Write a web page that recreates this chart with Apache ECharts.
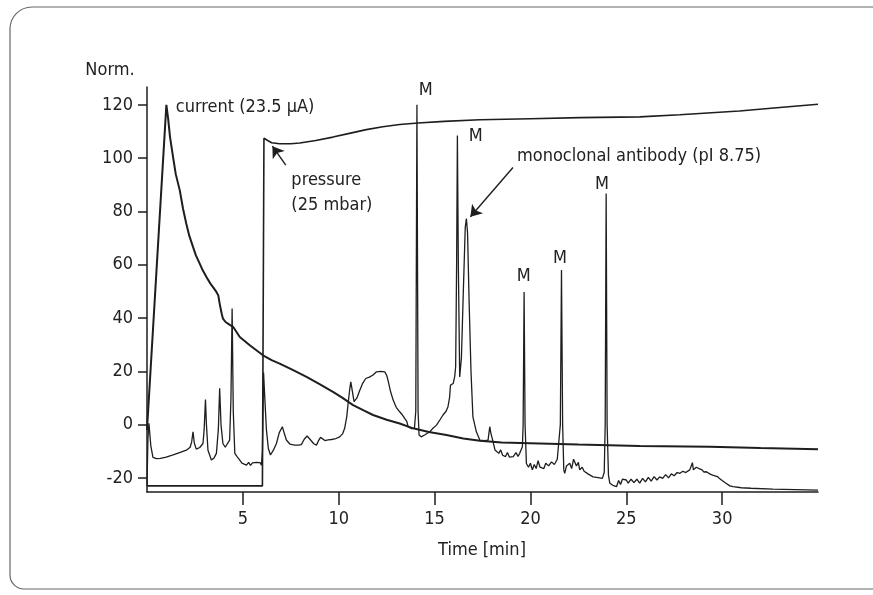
<!DOCTYPE html>
<html>
<head>
<meta charset="utf-8">
<script src="https://cdn.jsdelivr.net/npm/echarts@6.0.0/dist/echarts.min.js"></script>
<style>
html, body { margin: 0; padding: 0; background: #fff; }
#chart { width: 873px; height: 595px; }
</style>
</head>
<body>
<div id="chart"></div>
<script>
// 数据 (time [min], norm.)
var yTicks = [-20, 0, 20, 40, 60, 80, 100, 120];
var xTicks = [5, 10, 15, 20, 25, 30];

// 电流曲线
var current = [
    [0, -2], [1.01, 120], [1.1, 115], [1.2, 108], [1.36, 100.4], [1.5, 94], [1.71, 87.9],
    [1.88, 81], [2.05, 75.4], [2.2, 71], [2.4, 66.7], [2.55, 63.5], [2.75, 60.4], [2.9, 58],
    [3.1, 55.4], [3.3, 53], [3.5, 51], [3.62, 49.8], [3.72, 48.5], [3.79, 45.4], [3.9, 41.5],
    [3.96, 39.8], [4.1, 38.5], [4.3, 37.5], [4.49, 36.7], [4.84, 32.9], [5.36, 29.8],
    [6.05, 26], [6.5, 24.2], [6.92, 22.9], [7.6, 20.5], [8.32, 17.9], [9.0, 15.2], [9.7, 12.3],
    [10.2, 10], [10.75, 7.3], [11.3, 5.3], [11.79, 3.6], [12.5, 1.8], [13.18, 0.4],
    [13.88, -1.4], [14.7, -2.8], [15.62, -3.9], [16.5, -5.2], [17.36, -6.1], [18.5, -6.7],
    [20.48, -7.1], [22.5, -7.5], [25.7, -8.0], [29.35, -8.3], [32, -8.8], [35, -9.3]
];

// 压力曲线
var pressure = [
    [0, -23], [6.02, -23], [6.1, 107.5], [6.25, 106.8], [6.5, 105.8], [6.92, 105.4],
    [7.5, 105.4], [7.97, 105.7], [8.8, 106.6], [9.7, 107.9], [10.5, 109.2], [11.44, 110.7],
    [12.3, 111.8], [13.18, 112.6], [14.14, 113.2], [15.5, 113.8], [17.36, 114.4], [20, 114.8],
    [22.57, 115.2], [25.7, 115.5], [27.79, 116.3], [30.9, 117.7], [33, 119], [35, 120.2]
];

// 信号
var signal = [
    [0, -23], [0.05, -5], [0.1, 0.5], [0.2, -8], [0.31, -12.3], [0.5, -12.8], [0.7, -12.7],
    [1.0, -12.2], [1.36, -11.4], [1.7, -10.5], [2.05, -9.6], [2.25, -8.5], [2.33, -6.5],
    [2.4, -2.7], [2.47, -7], [2.57, -9.2], [2.75, -8.6], [2.92, -7.1], [2.98, -2], [3.05, 9.4],
    [3.1, 0], [3.18, -9.6], [3.36, -13.3], [3.5, -12.5], [3.62, -10.8], [3.72, -2], [3.79, 13.6],
    [3.86, 0], [3.96, -7.1], [4.08, -8.5], [4.17, -8.3], [4.31, -5.8], [4.38, 10], [4.44, 43.6],
    [4.5, 5], [4.58, -10.8], [4.7, -12], [4.84, -13.3], [4.95, -14.5], [5.05, -13.8],
    [5.19, -15.2], [5.3, -14.2], [5.4, -15.3], [5.5, -14.4], [5.6, -15], [5.7, -14.2],
    [5.8, -14.8], [5.9, -14.3], [5.97, -15.2], [6.02, -10], [6.08, 19.5], [6.13, 12],
    [6.23, -2], [6.33, -9], [6.44, -11.4], [6.6, -9.5], [6.75, -7.1], [6.9, -3], [7.06, -0.8],
    [7.15, -3], [7.27, -5.8], [7.45, -7.3], [7.7, -7.7], [7.9, -7.7], [8.05, -7.5], [8.2, -5.5],
    [8.35, -4.3], [8.5, -5.5], [8.7, -7.2], [8.84, -7.7], [8.95, -6], [9.05, -4.8], [9.15, -5.5],
    [9.28, -6], [9.45, -5.7], [9.62, -5.6], [9.8, -5.4], [10.05, -4.6], [10.2, -3.5],
    [10.31, -1.4], [10.42, 3], [10.49, 7.9], [10.57, 13], [10.63, 16], [10.7, 13], [10.8, 8.6],
    [10.95, 10], [11.1, 12.9], [11.25, 15.5], [11.41, 17.3], [11.6, 17.8], [11.79, 18.6],
    [11.97, 19.8], [12.2, 20], [12.4, 19.8], [12.5, 18.5], [12.57, 16.7], [12.7, 12.5],
    [12.84, 9.2], [13.0, 6.5], [13.18, 4.8], [13.3, 3.8], [13.44, 2.3], [13.55, 1.2],
    [13.62, -0.8], [13.8, -1.5], [13.95, -1.3], [14.02, 5], [14.08, 120], [14.14, 5],
    [14.19, -3.9], [14.3, -4.6], [14.5, -3.8], [14.75, -2.7], [14.9, -1.5], [15.1, -0.2],
    [15.3, 2], [15.44, 3.6], [15.6, 5], [15.7, 6.7], [15.78, 10], [15.83, 14.8], [15.97, 15.4],
    [16.05, 18], [16.1, 21.7], [16.15, 60], [16.19, 108.5], [16.24, 60], [16.31, 17.9],
    [16.4, 25], [16.5, 50], [16.6, 74], [16.66, 77.3], [16.72, 72], [16.8, 46.7], [16.9, 20],
    [17.0, 2.9], [17.18, -2.7], [17.36, -5.8], [17.6, -6], [17.79, -5.8], [17.84, -3],
    [17.88, -0.8], [17.93, -3], [18.05, -6.4], [18.15, -9.5], [18.23, -10.2], [18.35, -10.8],
    [18.45, -9.5], [18.55, -11.5], [18.7, -12], [18.8, -10.5], [18.9, -12.2], [19.1, -12],
    [19.25, -10.5], [19.35, -12], [19.44, -10.8], [19.58, -8.3], [19.62, 0], [19.67, 49.8],
    [19.72, 0], [19.79, -14.6], [19.9, -16], [20.0, -14.5], [20.1, -17], [20.2, -15],
    [20.3, -16.5], [20.4, -13.5], [20.5, -16], [20.6, -15.5], [20.7, -16.5], [20.8, -14.5],
    [20.95, -15.5], [21.1, -14], [21.25, -15], [21.4, -13], [21.5, -13.5], [21.56, 0],
    [21.62, 58], [21.68, 0], [21.74, -17], [21.79, -18.3], [21.88, -15.5], [21.97, -15.8],
    [22.05, -14.5], [22.15, -16.5], [22.25, -13], [22.31, -13.3], [22.4, -15.5], [22.5, -14.2],
    [22.57, -17], [22.7, -16], [22.8, -17.5], [22.9, -17], [23.0, -18.5], [23.1, -18],
    [23.27, -19.6], [23.45, -19.8], [23.6, -20], [23.75, -20.2], [23.85, -18], [23.9, 0],
    [23.95, 86.7], [24.0, 0], [24.07, -19], [24.14, -22], [24.3, -22.8], [24.49, -23.3],
    [24.6, -21], [24.7, -22.5], [24.8, -20.5], [25.0, -20.8], [25.1, -22], [25.25, -20.5],
    [25.4, -21.8], [25.55, -20.5], [25.7, -22], [25.85, -20.2], [26.0, -21.5], [26.15, -19.8],
    [26.3, -21.2], [26.45, -19.5], [26.6, -20.8], [26.74, -19.6], [26.9, -20.2], [27.05, -18.8],
    [27.2, -20], [27.35, -18.5], [27.5, -19.2], [27.65, -18], [27.8, -18.3], [27.95, -17.5],
    [28.1, -18], [28.31, -17], [28.4, -16.5], [28.45, -14.3], [28.5, -17], [28.65, -16],
    [28.8, -16.5], [28.95, -17], [29.05, -17.8], [29.18, -17.7], [29.35, -18.5], [29.5, -19],
    [29.6, -18.3], [29.75, -19.5], [29.86, -20.2], [30.0, -21], [30.2, -22], [30.4, -23],
    [30.57, -23.3], [31.0, -23.7], [31.5, -23.9], [32.65, -24.2], [33.8, -24.4], [35, -24.6]
];

// 文字标注 [text, time, value, align]
var labels = [
    ['current (23.5 µA)', 1.5, 118.9, 'left'],
    ['pressure\n(25 mbar)', 7.53, 87.1, 'left'],
    ['monoclonal antibody (pI 8.75)', 19.3, 100.8, 'left'],
    ['M', 14.54, 125.6, 'center'],
    ['M', 17.15, 108.3, 'center'],
    ['M', 19.65, 55.7, 'center'],
    ['M', 21.54, 62.3, 'center'],
    ['M', 23.73, 90.2, 'center']
];

// 箭头
var arrows = [
    [[7.24, 97.4], [6.54, 104.5]],
    [[19.09, 96.5], [16.87, 78.0]]
];

var font = '"Liberation Sans Narrow", "DejaVu Sans Condensed", "Liberation Sans", sans-serif';
var ink = '#1e1e1e';
var fs = 18;

var myChart = echarts.init(document.getElementById('chart'));

var lineStyleOf = function (w) {
    return { color: ink, width: w };
};

myChart.setOption({
    animation: false,
    backgroundColor: '#fff',
    grid: { left: 147, right: 55, top: 87, bottom: 103 },
    xAxis: {
        type: 'value',
        min: 0,
        max: 35,
        axisLine: { onZero: false, lineStyle: { color: ink, width: 1.5 } },
        axisTick: { customValues: xTicks, length: 13, lineStyle: { color: ink, width: 1.5 } },
        axisLabel: { customValues: xTicks, margin: 18, fontSize: fs, color: '#222', fontFamily: font },
        splitLine: { show: false }
    },
    yAxis: {
        type: 'value',
        min: -25.3,
        max: 126.7,
        axisLine: { show: true, onZero: false, lineStyle: { color: ink, width: 1.5 } },
        axisTick: { show: true, customValues: yTicks, length: 9, lineStyle: { color: ink, width: 1.5 } },
        axisLabel: { customValues: yTicks, margin: 14, fontSize: fs, color: '#222', fontFamily: font },
        splitLine: { show: false }
    },
    series: [
        {
            type: 'line',
            data: pressure,
            showSymbol: false,
            lineStyle: lineStyleOf(1.6)
        },
        {
            type: 'line',
            data: current,
            showSymbol: false,
            lineStyle: lineStyleOf(2)
        },
        {
            type: 'line',
            data: signal,
            showSymbol: false,
            lineStyle: lineStyleOf(1.3),
            markLine: {
                silent: true,
                symbol: ['none', 'arrow'],
                symbolSize: 11,
                symbolOffset: 0,
                label: { show: false },
                lineStyle: { color: ink, width: 1.4, type: 'solid' },
                data: arrows.map(function (a) {
                    return [{ coord: a[0] }, { coord: a[1] }];
                })
            }
        }
    ]
});

// 标注文字和边框
var g = [{
    type: 'rect',
    shape: { x: 10, y: 7, width: 900, height: 582, r: [22, 0, 0, 14] },
    style: { fill: 'none', stroke: '#666', lineWidth: 1.2 }
}, {
    type: 'text',
    x: 110, y: 70,
    style: { text: 'Norm.', font: fs + 'px ' + font, fill: '#222', align: 'center', verticalAlign: 'middle' }
}, {
    type: 'text',
    x: 482, y: 550,
    style: { text: 'Time [min]', font: fs + 'px ' + font, fill: '#222', align: 'center', verticalAlign: 'middle' }
}];

labels.forEach(function (l) {
    var p = myChart.convertToPixel({ gridIndex: 0 }, [l[1], l[2]]);
    g.push({
        type: 'text',
        x: p[0], y: p[1],
        style: {
            text: l[0],
            font: fs + 'px ' + font,
            lineHeight: 25,
            fill: '#222',
            align: l[3],
            verticalAlign: 'middle'
        }
    });
});

myChart.setOption({ graphic: g });
</script>
</body>
</html>
